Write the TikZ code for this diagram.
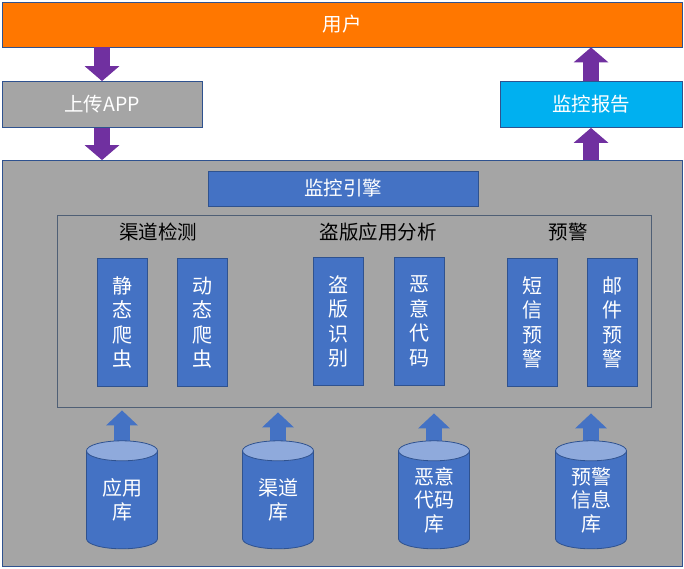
\documentclass[tikz,border=0pt]{standalone}
\usepackage{fontspec}
\setmainfont{Noto Sans CJK SC}
\usetikzlibrary{shapes, arrows.meta, positioning}

\definecolor{userorange}{HTML}{FF7700}
\definecolor{panelgray}{HTML}{A5A5A5}
\definecolor{blockblue}{HTML}{4472C4}
\definecolor{dbtop}{HTML}{8FAADC}
\definecolor{reportcyan}{HTML}{00B0F0}
\definecolor{arrowpurple}{HTML}{7030A0}
\definecolor{boxline}{HTML}{2F528F}
\definecolor{frameline}{HTML}{4F5F75}

\begin{document}
\begin{tikzpicture}[x=1pt, y=-1pt]

\tikzstyle{block} = [draw=boxline, shape=rectangle, line width=0.8pt, text=white, inner sep=0pt, font=\fontsize{19.5}{22}\selectfont]
\tikzstyle{vblock} = [block, fill=blockblue, minimum width=50pt, minimum height=128pt, align=center, font=\fontsize{20}{24.5}\selectfont]
\tikzstyle{title} = [text=black, font=\fontsize{19.5}{22}\selectfont]
\tikzstyle{db} = [cylinder, shape border rotate=90, aspect=0.5, draw=boxline, line width=0.8pt, cylinder uses custom fill, cylinder body fill=blockblue, cylinder end fill=dbtop, minimum width=71pt, minimum height=108pt, inner sep=0pt, text=white, align=center, font=\fontsize{20}{23.5}\selectfont]
\tikzstyle{fat} = [line width=16pt, draw=arrowpurple, -{Triangle[width=34pt, length=15pt]}]
\tikzstyle{thin} = [line width=16pt, draw=blockblue, -{Triangle[width=31pt, length=15pt]}]

\useasboundingbox (0,0) rectangle (684,568);

%Creating Blocks
\node [block, fill=userorange, minimum width=680pt, minimum height=45pt] at (342,24.5) (user) {用户};
\node [block, fill=panelgray, minimum width=200pt, minimum height=46pt] at (102,104.5) (upload) {上传APP};
\node [block, fill=reportcyan, minimum width=182pt, minimum height=46pt] at (591,104.5) (report) {监控报告};
\node [block, fill=panelgray, minimum width=680pt, minimum height=406pt] at (342,363.5) (main) {};
\node [block, fill=blockblue, minimum width=270pt, minimum height=35pt] at (343,188.5) (engine) {监控引擎};
\node [draw=frameline, line width=0.8pt, minimum width=594pt, minimum height=192pt, inner sep=0pt] at (354.5,311) (frame) {};

%Group titles
\node [title] at (158,232) (channel) {渠道检测};
\node [title] at (378,232) (piracy) {盗版应用分析};
\node [title] at (568,232) (alarm) {预警};

%Function blocks
\node [vblock] at (122,322.5) (static) {静\\态\\爬\\虫};
\node [vblock] at (202.5,322.5) (dynamic) {动\\态\\爬\\虫};
\node [vblock] at (338.5,321.5) (pirate) {盗\\版\\识\\别};
\node [vblock] at (419.5,321.5) (malware) {恶\\意\\代\\码};
\node [vblock] at (532,322.5) (sms) {短\\信\\预\\警};
\node [vblock] at (612.5,322.5) (mail) {邮\\件\\预\\警};

%Conecting Blocks
\draw [fat] (user.south -| upload.north) -- (upload.north);
\draw [fat] (upload.south) -- (upload.south |- main.north);
\draw [fat] (main.north -| report.south) -- (report.south);
\draw [fat] (report.north) -- (report.north |- user.south);

%Databases
\coordinate (appbase) at (122,452);
\coordinate (chanbase) at (278,452);
\coordinate (malbase) at (434,452);
\coordinate (alarmbase) at (591,452);
\draw [thin, shorten >=3pt] (appbase) -- (appbase |- frame.south);
\draw [thin, shorten >=5pt] (chanbase) -- (chanbase |- frame.south);
\draw [thin, shorten >=6pt] (malbase) -- (malbase |- frame.south);
\draw [thin, shorten >=6pt] (alarmbase) -- (alarmbase |- frame.south);

\node [db] at (122,500) (appdb) {应用\\库};
\node [db] at (278,500) (chandb) {渠道\\库};
\node [db] at (434,500) (maldb) {恶意\\代码\\库};
\node [db] at (591,500) (alarmdb) {预警\\信息\\库};

\end{tikzpicture}
\end{document}
